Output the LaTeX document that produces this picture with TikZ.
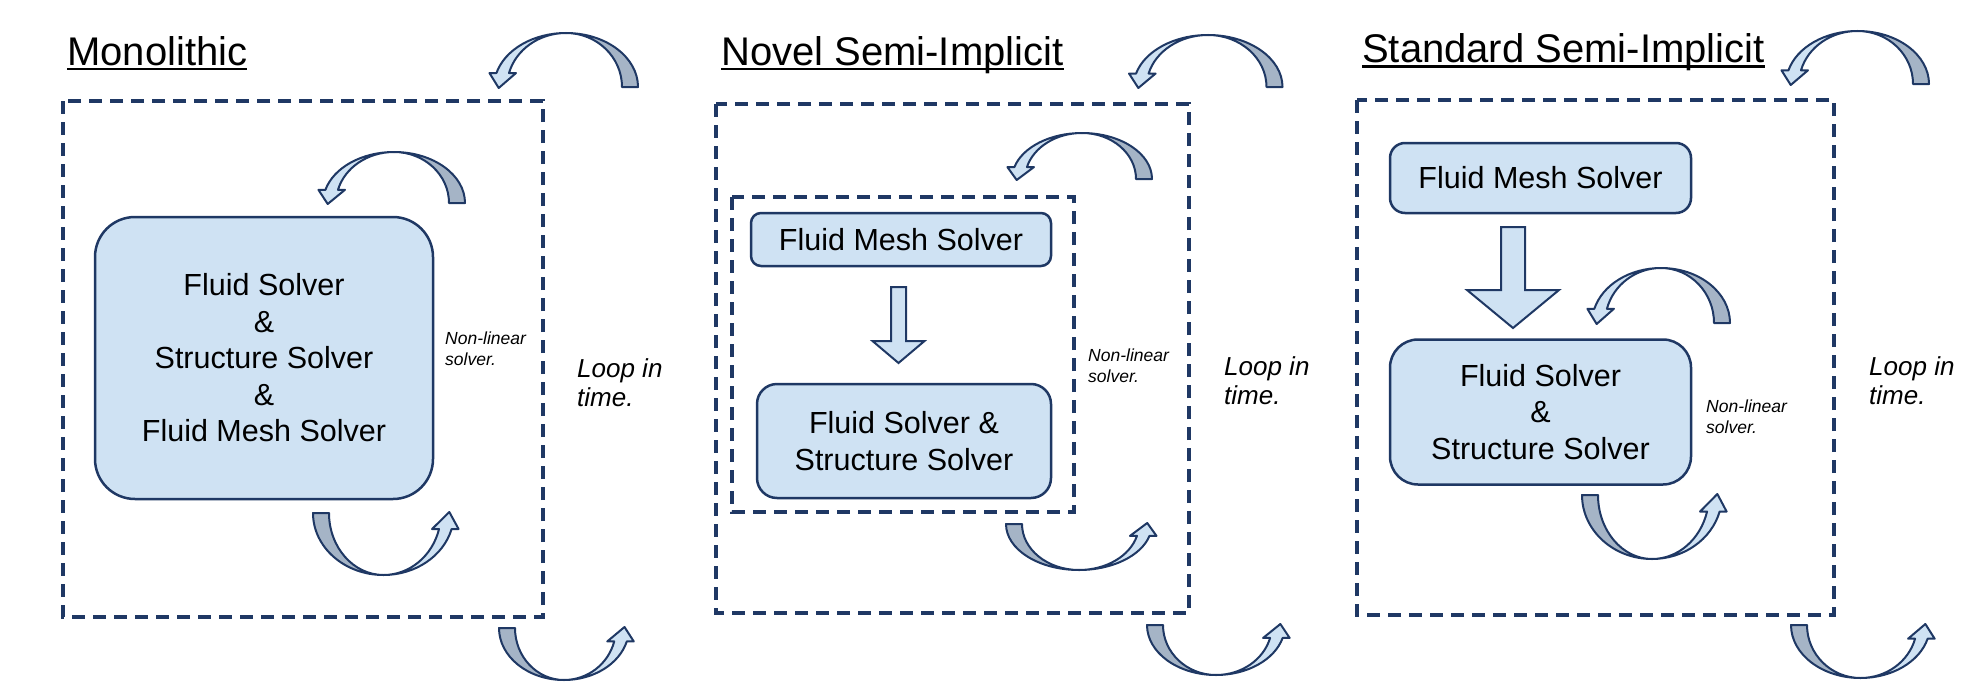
\documentclass[tikz,border=0pt]{standalone}
\usepackage{fontspec}
\setmainfont{Liberation Sans}
\definecolor{navy}{HTML}{1F3864}
\definecolor{lightblue}{HTML}{CFE2F3}
\definecolor{tailgray}{HTML}{A5B4C6}
\tikzset{
  dashbox/.style={draw=navy, line width=3.5pt, dash pattern=on 13pt off 8pt},
  solver/.style={draw=navy, fill=lightblue, line width=2.5pt, align=center, inner sep=0pt,
    font=\fontsize{30.5}{36.5}\selectfont},
  ttl/.style={anchor=base west, inner sep=0pt, font=\fontsize{40}{48}\selectfont},
  nonlin/.style={anchor=west, align=left, inner sep=0pt, font=\itshape\fontsize{17.5}{21}\selectfont},
  looptxt/.style={anchor=west, align=left, inner sep=0pt, font=\itshape\fontsize{26}{29}\selectfont},
  arcback/.style={draw=navy, fill=tailgray, line width=2pt, line join=round},
  arcfront/.style={draw=navy, fill=lightblue, line width=2pt, line join=round},
  blockarrow/.style={draw=navy, fill=lightblue, line width=2pt, line join=miter},
  uline/.style={draw=black, line width=2.5pt}
}
\newcommand{\flowarc}[5]{%
  \pgfmathsetmacro\ox{-(#3)*0.9659}%
  \pgfmathsetmacro\oy{(#4)*0.2588}%
  \pgfmathsetmacro\ix{-((#3)-13)*0.9659}%
  \pgfmathsetmacro\tx{-((#3)-6.5)*0.9659-4}%
  \begin{scope}[shift={(#1,#2)},#5]
    \filldraw[arcback] (#3,0) arc[start angle=0,end angle=90,x radius=#3,y radius=#4]
      arc[start angle=90,end angle=0,x radius={#3-16},y radius=#4] -- cycle;
    \filldraw[arcfront] (0,#4) arc[start angle=90,end angle=165,x radius=#3,y radius=#4]
      -- (\ox-7,\oy) -- (\tx,-1) -- (\ix+7,\oy) -- (\ix,\oy)
      arc[start angle=165,end angle=90,x radius={#3-13},y radius=#4] -- cycle;
  \end{scope}}
\begin{document}
\begin{tikzpicture}[x=1pt,y=-1pt]
\useasboundingbox (0,0) rectangle (1967,685);

% ---------------- Panel 1: Monolithic ----------------
\node[ttl] (t1) at (67,65.5) {Monolithic};
\draw[uline] ([yshift=-3.5pt]t1.base west) -- ([yshift=-3.5pt]t1.base east);
\draw[dashbox] (63,101) rectangle (543,617);
\node[solver, rounded corners=40pt, minimum width=338pt, minimum height=282pt] (mono) at (264,358)
  {Fluid Solver\\\&\\Structure Solver\\\&\\Fluid Mesh Solver};
\node[nonlin] (nl1) at (445,349) {Non-linear\\solver.};
\node[looptxt] (lp1) at (577,383) {Loop in\\time.};
\flowarc{566}{87}{72}{54}{yscale=-1}
\flowarc{394}{203}{71}{51}{yscale=-1}
\flowarc{383.5}{513}{70.5}{62}{xscale=-1}
\flowarc{564}{628}{65}{52}{xscale=-1}

% ---------------- Panel 2: Novel Semi-Implicit ----------------
\node[ttl] (t2) at (721,65.5) {Novel Semi-Implicit};
\draw[uline] ([yshift=-3.5pt]t2.base west) -- ([yshift=-3.5pt]t2.base east);
\draw[dashbox] (716,104) rectangle (1189,613);
\draw[dashbox] (732,197) rectangle (1074,512);
\node[solver, rounded corners=10pt, minimum width=300pt, minimum height=53pt] (fms2) at (901,239.5)
  {Fluid Mesh Solver};
\node[solver, rounded corners=20pt, minimum width=294pt, minimum height=114pt] (fs2) at (904,441)
  {Fluid Solver \&\\Structure Solver};
\draw[blockarrow] (891,287) -- (906,287) -- (906,341) -- (924.5,341) -- (898.5,363)
  -- (872.5,341) -- (891,341) -- cycle;
\node[nonlin] (nl2) at (1088,365.5) {Non-linear\\solver.};
\node[looptxt] (lp2) at (1224,381) {Loop in\\time.};
\flowarc{1208}{87}{74.5}{52}{yscale=-1}
\flowarc{1082}{179}{70}{46}{yscale=-1}
\flowarc{1079}{524}{73}{46}{xscale=-1}
\flowarc{1216}{625}{69}{50}{xscale=-1}

% ---------------- Panel 3: Standard Semi-Implicit ----------------
\node[ttl] (t3) at (1362,63) {Standard Semi-Implicit};
\draw[uline] ([yshift=-3.5pt]t3.base west) -- ([yshift=-3.5pt]t3.base east);
\draw[dashbox] (1357,100) rectangle (1834,615);
\node[solver, rounded corners=15pt, minimum width=301pt, minimum height=70pt] (fms3) at (1540.5,178)
  {Fluid Mesh Solver};
\node[solver, rounded corners=28pt, minimum width=301pt, minimum height=145pt] (fs3) at (1540.5,412)
  {Fluid Solver\\\&\\Structure Solver};
\draw[blockarrow] (1501,227) -- (1525,227) -- (1525,290) -- (1559,290) -- (1513,328)
  -- (1467,290) -- (1501,290) -- cycle;
\node[nonlin] (nl3) at (1706,417) {Non-linear\\solver.};
\node[looptxt] (lp3) at (1869,380.5) {Loop in\\time.};
\flowarc{1857.5}{84}{71.5}{53}{yscale=-1}
\flowarc{1661}{323}{69}{55}{yscale=-1}
\flowarc{1652}{495}{70}{64}{xscale=-1}
\flowarc{1860.5}{625}{69.5}{53}{xscale=-1}
\end{tikzpicture}
\end{document}
